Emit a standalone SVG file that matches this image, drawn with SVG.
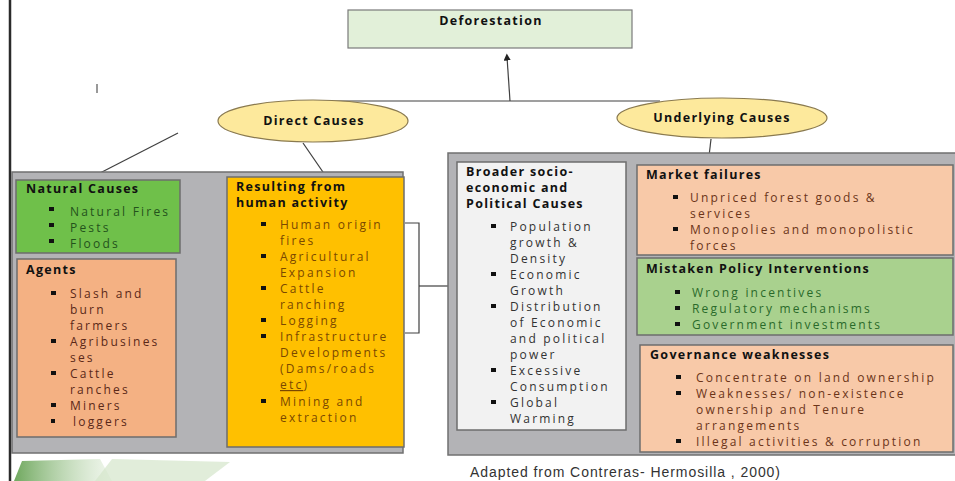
<svg xmlns="http://www.w3.org/2000/svg" width="955" height="481" viewBox="0 0 955 481">
<defs>
<style>
.t{font-family:"Open Sans","DejaVu Sans",sans-serif;font-weight:bold;font-size:12.5px;letter-spacing:1.3px;fill:#111}
.b{font-family:"Open Sans","DejaVu Sans",sans-serif;font-size:12px;letter-spacing:2.2px}
.ln{stroke:#404040;stroke-width:1.2;fill:none}
.panel{fill:#b3b3b6;stroke:#707070;stroke-width:1.5}
.box{stroke:#6d6d6d;stroke-width:1.5}
.sq{fill:#111}
</style>
<marker id="ah" markerWidth="6" markerHeight="6" refX="3" refY="3" orient="auto">
<path d="M0,0 L6,3 L0,6 z" fill="#222"/>
</marker>
<linearGradient id="leaf" x1="0" y1="0" x2="1" y2="0">
<stop offset="0" stop-color="#5f9e4c" stop-opacity="0.9"/>
<stop offset="1" stop-color="#d9e9d0" stop-opacity="0.4"/>
</linearGradient>
</defs>
<rect width="955" height="481" fill="#ffffff"/>
<line x1="10" y1="0" x2="10" y2="481" stroke="#2b2b2b" stroke-width="2.5"/>
<path d="M14,481 L22,461 L100,459 L112,481 Z" fill="url(#leaf)"/>
<path d="M95,481 L112,459 L230,462 L205,481 Z" fill="#d4e6ca" opacity="0.7"/>
<line x1="97" y1="84" x2="97" y2="93" stroke="#555" stroke-width="1.2"/>

<g id="connectors">
<line class="ln" x1="333" y1="101" x2="660" y2="101"/>
<line class="ln" x1="510" y1="101" x2="507" y2="57" marker-end="url(#ah)"/>
<line class="ln" x1="178" y1="133" x2="100" y2="173"/>
<line class="ln" x1="303" y1="143" x2="325" y2="175"/>
<line class="ln" x1="711" y1="139" x2="708" y2="165"/>
<line class="ln" x1="178" y1="368" x2="227" y2="368"/>
<polyline class="ln" points="405,223 419,223 419,333 405,333"/>
<line class="ln" x1="419" y1="286" x2="448" y2="286"/>
</g>

<g id="deforestation">
<rect x="348" y="10" width="284" height="38" fill="#e2f0d9" stroke="#7a7a7a" stroke-width="1.2"/>
<text x="491" y="25" class="t" font-size="15" letter-spacing="2.4" text-anchor="middle">Deforestation</text>
</g>

<g id="direct-causes">
<ellipse cx="313" cy="121" rx="95" ry="21" fill="#fde99c" stroke="#8a7a50" stroke-width="1.2"/>
<text x="314" y="125" class="t" letter-spacing="2.3" text-anchor="middle">Direct Causes</text>
</g>

<g id="underlying-causes">
<ellipse cx="722" cy="118" rx="105" ry="20" fill="#fde99c" stroke="#8a7a50" stroke-width="1.2"/>
<text x="722" y="122" class="t" font-size="12" letter-spacing="0.3" text-anchor="middle">Underlying Causes</text>
</g>

<g id="left-panel">
<rect class="panel" x="12" y="172" width="391" height="281"/>
</g>
<g id="right-panel">
<rect class="panel" x="448" y="153" width="510" height="302"/>
</g>

<g id="natural-causes">
<rect class="box" x="16" y="180" width="164" height="73" fill="#6fc04a"/>
<text x="26" y="193" class="t">Natural Causes</text>
<g fill="#24521c" class="b">
<rect class="sq" x="49" y="207" width="5" height="4"/><text x="70" y="216">Natural Fires</text>
<rect class="sq" x="49" y="223" width="5" height="4"/><text x="70" y="232">Pests</text>
<rect class="sq" x="49" y="239" width="5" height="4"/><text x="70" y="248">Floods</text>
</g>
</g>

<g id="agents">
<rect class="box" x="17" y="259" width="159" height="178" fill="#f4b183"/>
<text x="26" y="274" class="t">Agents</text>
<g fill="#5a2818" class="b">
<rect class="sq" x="51" y="291" width="5" height="4"/><text x="70" y="298">Slash and</text>
<text x="70" y="314">burn</text>
<text x="70" y="330">farmers</text>
<rect class="sq" x="51" y="339" width="5" height="4"/><text x="70" y="346">Agribusines</text>
<text x="70" y="362">ses</text>
<rect class="sq" x="51" y="371" width="5" height="4"/><text x="70" y="378">Cattle</text>
<text x="70" y="394">ranches</text>
<rect class="sq" x="51" y="403" width="5" height="4"/><text x="70" y="410">Miners</text>
<rect class="sq" x="51" y="419" width="4" height="4"/><text x="73" y="426">loggers</text>
</g>
</g>

<g id="human-activity">
<rect class="box" x="227" y="177" width="177" height="270" fill="#ffc000"/>
<text x="236" y="191" class="t">Resulting from</text>
<text x="236" y="207" class="t">human activity</text>
<g fill="#7a4800" class="b">
<rect class="sq" x="261" y="222" width="5" height="4"/><text x="280" y="229">Human origin</text>
<text x="280" y="245">fires</text>
<rect class="sq" x="261" y="254" width="5" height="4"/><text x="280" y="261">Agricultural</text>
<text x="280" y="277">Expansion</text>
<rect class="sq" x="261" y="286" width="5" height="4"/><text x="280" y="293">Cattle</text>
<text x="280" y="309">ranching</text>
<rect class="sq" x="261" y="318" width="5" height="4"/><text x="280" y="325">Logging</text>
<rect class="sq" x="261" y="334" width="5" height="4"/><text x="280" y="341">Infrastructure</text>
<text x="280" y="357">Developments</text>
<text x="280" y="373">(Dams/roads</text>
<text x="280" y="389"><tspan text-decoration="underline">etc</tspan>)</text>
<rect class="sq" x="261" y="399" width="5" height="4"/><text x="280" y="406">Mining and</text>
<text x="280" y="422">extraction</text>
</g>
</g>

<g id="broader-causes">
<rect class="box" x="457" y="162" width="169" height="268" fill="#f2f2f2"/>
<text x="466" y="176" class="t" letter-spacing="1">Broader socio-</text>
<text x="466" y="192" class="t" letter-spacing="1">economic and</text>
<text x="466" y="208" class="t" letter-spacing="1">Political Causes</text>
<g fill="#333" class="b">
<rect class="sq" x="491" y="224" width="5" height="4"/><text x="510" y="231">Population</text>
<text x="510" y="247">growth &amp;</text>
<text x="510" y="263">Density</text>
<rect class="sq" x="491" y="272" width="5" height="4"/><text x="510" y="279">Economic</text>
<text x="510" y="295">Growth</text>
<rect class="sq" x="491" y="304" width="5" height="4"/><text x="510" y="311">Distribution</text>
<text x="510" y="327">of Economic</text>
<text x="510" y="343">and political</text>
<text x="510" y="359">power</text>
<rect class="sq" x="491" y="368" width="5" height="4"/><text x="510" y="375">Excessive</text>
<text x="510" y="391">Consumption</text>
<rect class="sq" x="491" y="400" width="5" height="4"/><text x="510" y="407">Global</text>
<text x="510" y="423">Warming</text>
</g>
</g>

<g id="market-failures">
<rect class="box" x="637" y="165" width="316" height="90" fill="#f8c9a8"/>
<text x="646" y="179" class="t">Market failures</text>
<g fill="#6b3418" class="b">
<rect class="sq" x="673" y="195" width="5" height="4"/><text x="690" y="202">Unpriced forest goods &amp;</text>
<text x="690" y="218">services</text>
<rect class="sq" x="673" y="227" width="5" height="4"/><text x="690" y="234">Monopolies and monopolistic</text>
<text x="690" y="250">forces</text>
</g>
</g>

<g id="policy-interventions">
<rect class="box" x="637" y="258" width="316" height="77" fill="#a9d18e"/>
<text x="646" y="273" class="t">Mistaken Policy Interventions</text>
<g fill="#2a6a2a" class="b">
<rect class="sq" x="675" y="290" width="5" height="4"/><text x="692" y="297">Wrong incentives</text>
<rect class="sq" x="675" y="306" width="5" height="4"/><text x="692" y="313">Regulatory mechanisms</text>
<rect class="sq" x="675" y="322" width="5" height="4"/><text x="692" y="329">Government investments</text>
</g>
</g>

<g id="governance">
<rect class="box" x="640" y="345" width="313" height="107" fill="#f8c9a8"/>
<text x="650" y="359" class="t">Governance weaknesses</text>
<g fill="#6b3418" class="b">
<rect class="sq" x="676" y="375" width="5" height="4"/><text x="696" y="382">Concentrate on land ownership</text>
<rect class="sq" x="676" y="391" width="5" height="4"/><text x="696" y="398">Weaknesses/ non-existence</text>
<text x="696" y="414">ownership  and Tenure</text>
<text x="696" y="430">arrangements</text>
<rect class="sq" x="676" y="439" width="5" height="4"/><text x="696" y="446">Illegal activities &amp; corruption</text>
</g>
</g>

<text x="470" y="477" font-family="'Liberation Sans',Arial,sans-serif" font-size="14" fill="#333" textLength="310">Adapted from Contreras- Hermosilla , 2000)</text>
</svg>
